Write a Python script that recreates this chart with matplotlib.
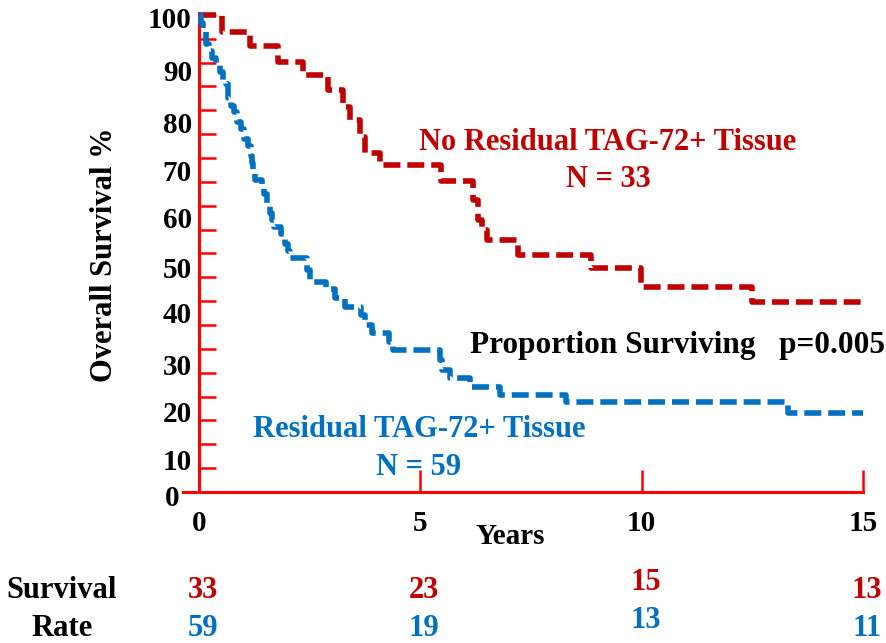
"""
Kaplan-Meier style overall survival, residual vs no residual TAG-72+ tissue.
"""

import matplotlib
matplotlib.use("Agg")
import matplotlib.pyplot as plt
from matplotlib.transforms import blended_transform_factory, ScaledTranslation


# step times (years) and survival (%) after each step
no_resid_t = [0, 0.51, 1.15, 1.79, 2.35, 2.91, 3.25, 3.41, 3.63, 3.75, 4.09,
              5.46, 6.19, 6.30, 6.39, 6.50, 7.20, 8.86, 9.99, 12.50, 15.0]
no_resid_s = [100, 96.5, 93.5, 90.2, 87.4, 84.3, 80.8, 78.0, 74.5, 71.0, 68.6,
              65.2, 61.2, 57.0, 54.9, 52.8, 49.7, 47.0, 43.0, 39.9, 39.9]

resid_t = [0, 0.05, 0.10, 0.15, 0.22, 0.30, 0.38, 0.47, 0.55, 0.62, 0.66,
           0.72, 0.80, 0.87, 0.95, 1.02, 1.10, 1.17, 1.20, 1.23, 1.26,
           1.42, 1.48, 1.53, 1.60, 1.66, 1.70, 1.85, 1.95, 2.02, 2.06,
           2.45, 2.50, 2.88, 3.07, 3.30, 3.67, 3.75, 3.90, 4.30, 4.38,
           5.45, 5.48, 5.66, 6.13, 6.80, 8.30, 13.30, 15.0]
resid_s = [100, 98.3, 96.6, 94.0, 92.5, 91.0, 89.5, 88.0, 86.4, 85.6, 82.5,
           81.0, 79.6, 77.6, 76.0, 74.0, 72.5, 70.5, 69.0, 67.5, 65.4,
           64.5, 62.5, 60.0, 58.5, 57.0, 55.5, 54.0, 52.0, 50.5, 49.0,
           46.5, 44.0, 42.5, 40.7, 38.8, 37.0, 35.0, 33.3, 31.5, 29.7,
           27.6, 25.6, 23.9, 22.1, 20.3, 18.9, 16.6, 16.6]

# numbers at risk under the axis
at_risk_years = [0, 5, 10, 15]
at_risk_no_resid = [33, 23, 15, 13]
at_risk_resid = [59, 19, 13, 11]

DARK_RED = "#C00000"
BLUE = "#0070C0"
AXIS_RED = "#FF0000"
FONT = ["Liberation Serif", "DejaVu Serif"]

# the y labels in the original sit a bit below their ticks (pixels down)
YLABEL_DROP = {100: 3, 90: 8, 80: 12, 70: 12, 60: 12, 50: 14,
               40: 11, 30: 16, 20: 15, 10: 15, 0: 4}

plt.rcParams["font.family"] = FONT
plt.rcParams["font.weight"] = "bold"

fig = plt.figure(figsize=(8.86, 6.43), dpi=100)
ax = fig.add_axes([183 / 886, 1 - 492 / 643, 680 / 886, 479 / 643])
ax.set_xlim(-0.36, 15)
ax.set_ylim(0, 100.4)

lw = 4.0
ax.step(no_resid_t, no_resid_s, where="post", color=DARK_RED, lw=lw,
        dashes=(3.05, 1.25), clip_on=False, zorder=3)
ax.step(resid_t, resid_s, where="post", color=BLUE, lw=lw,
        dashes=(3.05, 1.25), clip_on=False, zorder=3)

# axes: red, left spine sits at x=0, x axis pokes out a little to the left
for side in ("top", "right"):
    ax.spines[side].set_visible(False)
ax.spines["left"].set_position(("data", 0))
for side in ("left", "bottom"):
    ax.spines[side].set_color(AXIS_RED)
    ax.spines[side].set_linewidth(2.2)

yt = list(range(0, 101, 5))
ax.set_yticks(yt)
ax.set_yticklabels([str(v) if v % 10 == 0 else "" for v in yt])
ax.set_xticks(at_risk_years)
ax.set_xticklabels([str(v) for v in at_risk_years])
ax.tick_params(axis="y", direction="in", length=12, width=1.8,
               color=AXIS_RED, labelsize=21, pad=5)
ax.tick_params(axis="x", direction="in", length=16, width=1.8,
               color=AXIS_RED, labelsize=21, pad=13)
for lab in ax.get_xticklabels():
    lab.set_fontweight("bold")
for v, lab in zip(yt, ax.get_yticklabels()):
    lab.set_fontweight("bold")
    if v in YLABEL_DROP:
        dx = -12 if v == 0 else 0
        shift = ScaledTranslation(dx / 100, -YLABEL_DROP[v] / 100,
                                  fig.dpi_scale_trans)
        lab.set_transform(lab.get_transform() + shift)

fig.text(105 / 886, 1 - 255 / 643, "Overall Survival %", rotation=90,
         ha="center", va="center", fontsize=22, fontweight="bold")
fig.text(510 / 886, 1 - 537 / 643, "Years", ha="center", va="center",
         fontsize=21, fontweight="bold")

# curve annotations
ax.text(9.24, 73.2, "No Residual TAG-72+ Tissue", color=DARK_RED,
        ha="center", va="center", fontsize=22, fontweight="bold")
ax.text(9.24, 65.4, "N = 33", color=DARK_RED,
        ha="center", va="center", fontsize=22, fontweight="bold")
ax.text(6.12, 30.8, "Proportion Surviving   p=0.005", color="black",
        ha="left", va="center", fontsize=22.5, fontweight="bold")
ax.text(4.97, 13.0, "Residual TAG-72+ Tissue", color=BLUE,
        ha="center", va="center", fontsize=22, fontweight="bold")
ax.text(4.97, 5.2, "N = 59", color=BLUE,
        ha="center", va="center", fontsize=22, fontweight="bold")

# numbers at risk table
trans = blended_transform_factory(ax.transData, fig.transFigure)
row_y = [1 - 590 / 643, 1 - 628 / 643]
fig.text(62 / 886, row_y[0], "Survival", ha="center", va="center",
         fontsize=22, fontweight="bold")
fig.text(62 / 886, row_y[1], "Rate", ha="center", va="center",
         fontsize=22, fontweight="bold")
for yr, n_red, n_blue in zip(at_risk_years, at_risk_no_resid, at_risk_resid):
    lift = 8 / 643 if yr == 10 else 0.0
    ax.text(yr + 0.09, row_y[0] + lift, str(n_red), transform=trans,
            color=DARK_RED, ha="center", va="center", fontsize=22,
            fontweight="bold")
    ax.text(yr + 0.09, row_y[1] + lift, str(n_blue), transform=trans,
            color=BLUE, ha="center", va="center", fontsize=22,
            fontweight="bold")

fig.savefig("out.png", dpi=100)
